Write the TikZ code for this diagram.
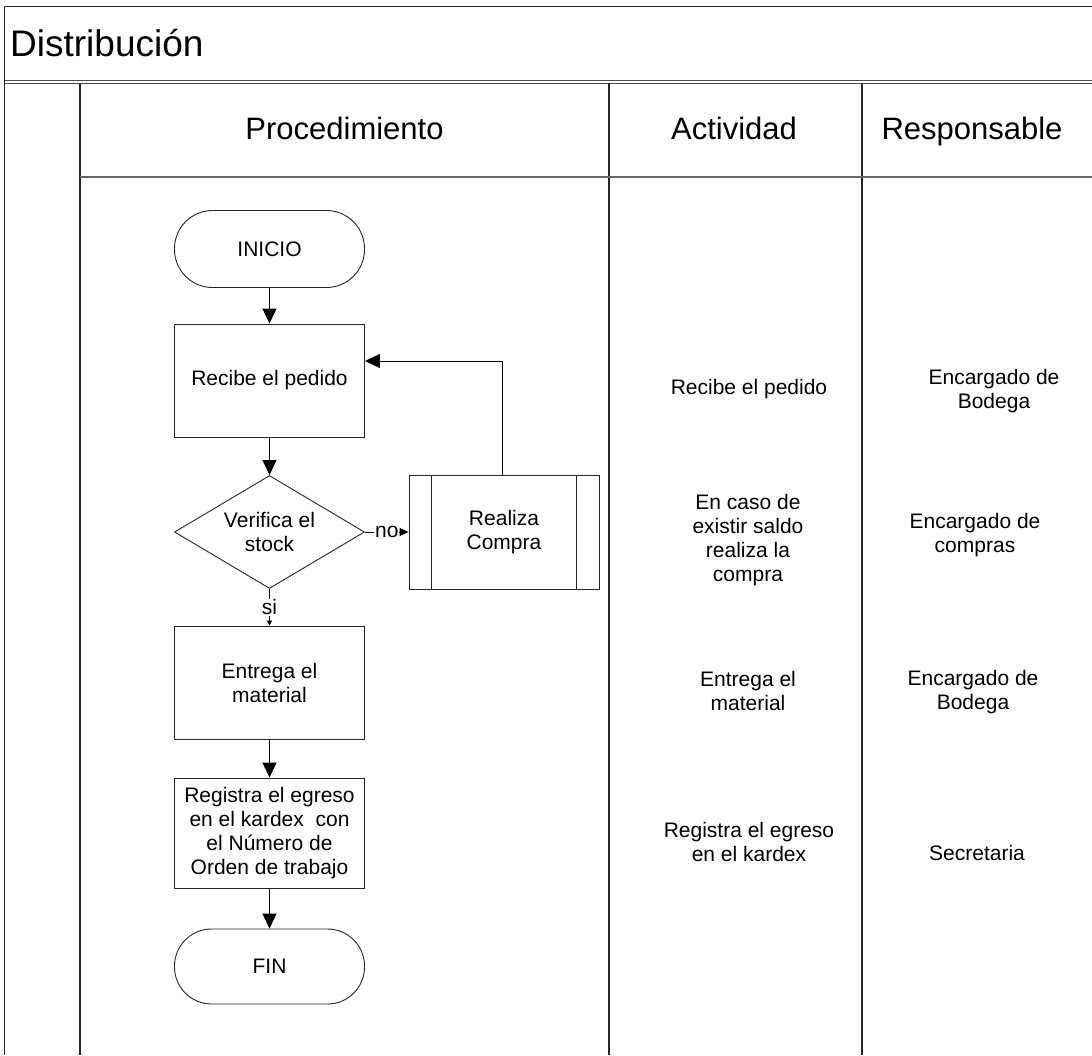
\documentclass[tikz,border=0pt]{standalone}
\usepackage{fontspec}
\setmainfont{Liberation Sans}
\usetikzlibrary{arrows.meta,shapes.geometric,calc}
\begin{document}
\begin{tikzpicture}[x=1pt,y=-1pt,
  fl/.style={draw=black!85, line width=0.9pt, font=\fontsize{21}{24}\selectfont, align=center, inner sep=2pt},
  proc/.style={fl, rectangle, minimum width=190pt, minimum height=113pt},
  term/.style={fl, rectangle, rounded corners=38pt, minimum width=190pt, minimum height=77pt},
  dec/.style={fl, diamond, aspect=1.68, minimum width=190pt, minimum height=113pt, inner sep=0pt},
  arr/.style={-{Triangle[length=15pt,width=14pt]}, line width=1pt, draw=black},
  smallarr/.style={-{Triangle[length=9pt,width=8pt]}, line width=0.9pt, draw=black},
  tinyarr/.style={-{Triangle[length=5pt,width=5pt]}, line width=0.9pt, draw=black},
  lbl/.style={font=\fontsize{21}{24}\selectfont, align=center},
  hdr/.style={font=\fontsize{31}{36}\selectfont, anchor=base},
  tline/.style={line width=1.4pt, draw=black!85}
]
\useasboundingbox[fill=white] (0,0) rectangle (1092,1055);

% table frame
\draw[tline] (1092,6.5) -- (4.5,6.5) -- (4.5,1055);
\draw[line width=0.9pt, draw=black!70] (4.5,80) -- (1092,80);
\draw[line width=0.9pt, draw=black!70] (4.5,83) -- (1092,83);
\draw[tline] (80,83) -- (80,1055);
\draw[tline] (609,83) -- (609,1055);
\draw[tline] (862,83) -- (862,1055);
\draw[line width=1.5pt, draw=black!60] (80,177) -- (1092,177);

% titles
\node[anchor=base west, inner sep=0pt, font=\fontsize{37}{42}\selectfont] (title) at (10,56) {Distribución};
\node[hdr] (hproc) at (344.5,139) {Procedimiento};
\node[hdr] (hact) at (734,139) {Actividad};
\node[hdr] (hresp) at (972,139) {Responsable};

% flowchart
\node[term] (ini) at (269.5,249) {INICIO};
\node[proc] (rec) at (269.5,380.5) {Recibe el pedido};
\node[dec] (ver) at (269.5,532) {Verifica el\\stock};
\node[proc, minimum height=114pt] (rc) at (504,532) {Realiza\\Compra};
\draw[line width=0.9pt, draw=black!85] ([xshift=23pt]rc.north west) -- ([xshift=23pt]rc.south west);
\draw[line width=0.9pt, draw=black!85] ([xshift=-23pt]rc.north east) -- ([xshift=-23pt]rc.south east);
\node[proc] (ent) at (269.5,682.5) {Entrega el\\material};
\node[proc, minimum height=110pt] (reg) at (269.5,833) {Registra el egreso\\en el kardex~ con\\el Número de\\Orden de trabajo};
\node[term, minimum height=75pt, rounded corners=37pt] (fin) at (269.5,966.5) {FIN};

\draw[arr] (ini) -- (rec);
\draw[arr] (rec) -- (ver);
\draw[smallarr] (ver) -- node[lbl, fill=white, inner sep=1pt] {no} (rc);
\draw[tinyarr] (ver) -- node[lbl, fill=white, inner sep=1pt] {si} (ent);
\draw[arr] ([xshift=-2pt]rc.north) |- ([yshift=19.5pt]rec.east);
\draw[arr] (ent) -- (reg);
\draw[arr] (reg) -- (fin);

% activity column
\node[lbl] (a1) at (749,389) {Recibe el pedido};
\node[lbl] (a2) at (748,540) {En caso de\\existir saldo\\realiza la\\compra};
\node[lbl] (a3) at (748,691) {Entrega el\\material};
\node[lbl] (a4) at (749,842) {Registra el egreso\\en el kardex};

% responsible column
\node[lbl] (r1) at (994,391) {Encargado de\\Bodega};
\node[lbl] (r2) at (975,535) {Encargado de\\compras};
\node[lbl] (r3) at (973,692) {Encargado de\\Bodega};
\node[lbl] (r4) at (977,853) {Secretaria};
\end{tikzpicture}
\end{document}
